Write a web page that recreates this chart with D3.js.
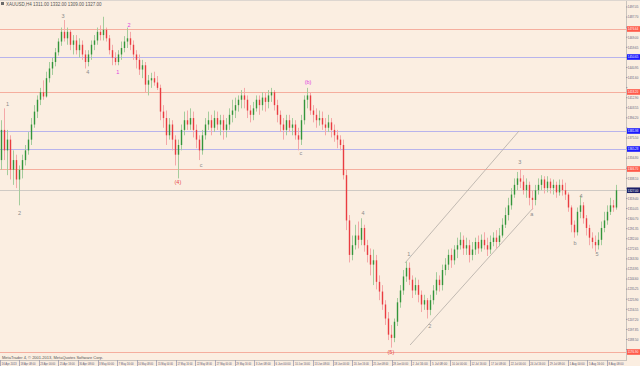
<!DOCTYPE html>
<html>
<head>
<meta charset="utf-8">
<script src="https://cdn.jsdelivr.net/npm/d3@7/dist/d3.min.js"></script>
<style>
  body { margin: 0; background: #fbeee1; }
  svg { display: block; font-family: "Liberation Sans", "DejaVu Sans", sans-serif; }
</style>
</head>
<body>
<div id="chart"></div>
<script>
// XAUUSD H4 candles, [open, high, low, close]
var candles = [
  [1355,1392,1346,1383],[1383,1403,1355,1364],[1364,1383,1341,1374],[1374,1378,1337,1346],
  [1346,1364,1332,1355],[1355,1360,1329,1337],[1337,1350,1313,1346],[1346,1360,1338,1355],
  [1355,1369,1350,1364],[1364,1381,1360,1374],[1374,1394,1369,1388],[1388,1406,1385,1400],
  [1400,1415,1394,1411],[1411,1422,1406,1418],[1418,1429,1411,1414],[1414,1437,1413,1431],
  [1431,1446,1427,1440],[1440,1450,1434,1446],[1446,1459,1442,1455],[1455,1468,1452,1465],
  [1465,1478,1461,1474],[1474,1485,1465,1468],[1468,1478,1462,1474],[1474,1476,1457,1462],
  [1462,1471,1453,1466],[1466,1471,1453,1457],[1457,1468,1450,1462],[1462,1466,1448,1453],
  [1453,1457,1440,1446],[1446,1457,1442,1453],[1453,1466,1448,1462],[1462,1471,1457,1466],
  [1466,1478,1462,1474],[1474,1480,1466,1471],[1471,1488,1466,1476],[1476,1478,1465,1468],
  [1468,1471,1453,1457],[1457,1462,1443,1450],[1450,1455,1443,1446],[1446,1457,1443,1453],
  [1453,1465,1448,1459],[1459,1470,1455,1465],[1465,1478,1459,1468],[1468,1474,1457,1462],
  [1462,1466,1448,1453],[1453,1457,1440,1448],[1448,1453,1434,1439],[1439,1448,1431,1443],
  [1443,1446,1418,1425],[1425,1434,1415,1429],[1429,1436,1422,1431],[1431,1437,1424,1427],
  [1427,1433,1420,1422],[1422,1425,1392,1400],[1400,1406,1385,1394],[1394,1401,1369,1378],
  [1378,1394,1374,1388],[1388,1392,1364,1374],[1374,1378,1350,1360],[1360,1374,1338,1369],
  [1369,1388,1364,1383],[1383,1400,1378,1392],[1392,1401,1383,1388],[1388,1403,1383,1394],
  [1394,1400,1376,1383],[1383,1388,1366,1374],[1374,1378,1355,1364],[1364,1383,1360,1378],
  [1378,1394,1374,1388],[1388,1400,1383,1392],[1392,1397,1378,1385],[1385,1401,1381,1394],
  [1394,1400,1383,1388],[1388,1397,1378,1392],[1392,1397,1374,1383],[1383,1394,1376,1388],
  [1388,1403,1383,1397],[1397,1411,1390,1401],[1401,1413,1394,1406],[1406,1415,1400,1411],
  [1411,1420,1403,1415],[1415,1422,1403,1411],[1411,1415,1394,1401],[1401,1406,1390,1397],
  [1397,1409,1392,1403],[1403,1415,1400,1411],[1411,1415,1397,1406],[1406,1418,1401,1413],
  [1413,1418,1400,1409],[1409,1420,1403,1415],[1415,1422,1409,1418],[1418,1420,1401,1406],
  [1406,1411,1390,1397],[1397,1401,1381,1388],[1388,1394,1374,1383],[1383,1397,1378,1392],
  [1392,1397,1381,1385],[1385,1394,1378,1388],[1388,1392,1374,1378],[1378,1385,1364,1374],
  [1374,1397,1369,1392],[1392,1415,1388,1411],[1411,1422,1403,1415],[1415,1418,1397,1401],
  [1401,1406,1390,1397],[1397,1403,1385,1392],[1392,1401,1387,1394],[1394,1400,1383,1388],
  [1388,1394,1378,1385],[1385,1397,1381,1390],[1390,1394,1376,1383],[1383,1388,1372,1378],
  [1378,1383,1366,1374],[1374,1378,1364,1369],[1369,1374,1337,1341],[1341,1346,1290,1299],
  [1299,1304,1260,1267],[1267,1285,1262,1276],[1276,1295,1272,1285],[1285,1298,1273,1281],
  [1281,1301,1276,1292],[1292,1295,1270,1276],[1276,1281,1260,1267],[1267,1273,1248,1258],
  [1258,1272,1239,1262],[1262,1267,1235,1242],[1242,1248,1225,1233],[1233,1239,1216,1221],
  [1221,1225,1202,1208],[1208,1214,1188,1193],[1193,1202,1181,1190],[1190,1208,1186,1205],
  [1205,1227,1201,1223],[1223,1239,1218,1234],[1234,1253,1230,1247],[1247,1261,1242,1255],
  [1255,1260,1239,1244],[1244,1248,1227,1234],[1234,1246,1230,1239],[1239,1244,1223,1230],
  [1230,1234,1214,1221],[1221,1230,1216,1225],[1225,1227,1208,1216],[1216,1230,1211,1225],
  [1225,1239,1221,1234],[1234,1251,1230,1244],[1244,1248,1233,1239],[1239,1258,1234,1253],
  [1253,1264,1248,1258],[1258,1272,1253,1267],[1267,1273,1255,1262],[1262,1276,1258,1272],
  [1272,1283,1264,1276],[1276,1288,1272,1281],[1281,1285,1267,1273],[1273,1283,1267,1276],
  [1276,1281,1260,1267],[1267,1279,1262,1272],[1272,1283,1267,1279],[1279,1285,1268,1273],
  [1273,1286,1270,1281],[1281,1288,1272,1276],[1276,1283,1266,1272],[1272,1285,1268,1279],
  [1279,1288,1275,1283],[1283,1290,1273,1279],[1279,1292,1275,1285],[1285,1301,1283,1295],
  [1295,1311,1292,1304],[1304,1320,1299,1313],[1313,1329,1309,1323],[1323,1338,1320,1332],
  [1332,1344,1327,1338],[1338,1346,1329,1335],[1335,1341,1323,1327],[1327,1338,1320,1332],
  [1332,1335,1313,1320],[1320,1327,1309,1318],[1318,1332,1313,1327],[1327,1338,1323,1332],
  [1332,1341,1327,1337],[1337,1340,1324,1329],[1329,1340,1325,1335],[1335,1338,1324,1329],
  [1329,1337,1323,1332],[1332,1335,1320,1325],[1325,1337,1322,1332],[1332,1337,1322,1327],
  [1327,1334,1318,1323],[1323,1325,1307,1311],[1311,1313,1288,1295],[1295,1299,1283,1288],
  [1288,1311,1285,1307],[1307,1322,1301,1313],[1313,1316,1296,1301],[1301,1304,1285,1292],
  [1292,1295,1276,1283],[1283,1288,1273,1279],[1279,1285,1270,1276],[1276,1288,1272,1281],
  [1281,1298,1276,1292],[1292,1307,1288,1299],[1299,1313,1295,1307],[1307,1320,1304,1313],
  [1313,1318,1307,1311],[1311,1332,1309,1327]
];

// price axis labels
var priceTicks = [1497.05,1487.70,1478.35,1469.00,1459.65,1450.30,1440.95,1431.60,1422.25,
  1412.90,1403.55,1394.20,1384.85,1375.50,1366.15,1356.80,1347.45,1338.10,1328.75,1319.40,
  1310.05,1300.70,1291.35,1282.00,1272.65,1263.30,1253.95,1244.60,1235.25,1225.90,1216.55,
  1207.20,1197.85,1188.50,1179.15];

// time axis labels and the bar they sit on
var dateLabels = ["16 Apr 2013","18 Apr 08:00","23 Apr 00:00","25 Apr 16:00","30 Apr 08:00",
  "3 May 00:00","7 May 16:00","10 May 08:00","15 May 00:00","17 May 16:00","22 May 08:00",
  "27 May 00:00","29 May 16:00","3 Jun 08:00","6 Jun 00:00","10 Jun 16:00","13 Jun 08:00",
  "18 Jun 00:00","20 Jun 16:00","25 Jun 08:00","28 Jun 00:00","2 Jul 16:00","5 Jul 08:00",
  "10 Jul 00:00","12 Jul 16:00","17 Jul 08:00","22 Jul 00:00","24 Jul 16:00","29 Jul 08:00",
  "1 Aug 00:00","5 Aug 16:00","8 Aug 08:00"];
var dateBars = [-0.5,5.8,12.4,18.9,25.4,32.0,38.5,45.0,51.6,58.1,64.6,71.2,77.7,84.2,90.8,
  97.3,103.8,110.4,116.9,123.4,130.0,136.5,143.0,149.6,156.1,162.6,169.2,175.7,182.2,188.8,
  195.3,201.8];

// horizontal levels
var levelPrices = [1476.64, 1450.65, 1418.20, 1381.98, 1365.28, 1346.70, 1176.90];
var levelKinds  = ["red", "blue", "red", "blue", "blue", "red", "red"];

// trend channel, [bar, price]
var upperLine = [[134.5, 1259.5], [172.5, 1382.0]];
var lowerLine = [[136.2, 1183.4], [177.2, 1310.5]];

// wave marks
var waveBars   = [2, 6, 20.5, 28.8, 38.8, 42.5, 58.8, 66.5, 99.8, 102.2, 120.5, 129.8, 135.8, 142.8, 172.8, 176.8, 191.2, 193.2, 198.5];
var wavePrices = [1407, 1306, 1489, 1437, 1437, 1480, 1335, 1350, 1362, 1427, 1306, 1177, 1268, 1201, 1353, 1305, 1278, 1322, 1268];
var waveTexts  = ["1", "2", "3", "4", "1", "2", "(4)", "c", "c", "(b)", "4", "(5)", "1", "2", "3", "a", "b", "4", "5"];
var waveKinds  = ["g", "g", "g", "g", "m", "m", "r", "g", "g", "m", "g", "r", "g", "g", "g", "g", "g", "g", "g"];

var W = 640, H = 366, plotRight = 626, plotBottom = 360;
var waveColor = { g: "#8a8a8a", m: "#e040e0", r: "#e84848" };
var levelLine = { red: "#f5ae9e", blue: "#b8b4ec" };
var levelTag  = { red: "#ff5a4a", blue: "#1a1aff" };

var svg = d3.select("#chart").append("svg")
  .attr("width", W)
  .attr("height", H);

svg.append("rect").attr("width", W).attr("height", H).attr("fill", "#fbeee1");

var x = d3.scaleLinear()
  .domain([0, candles.length - 1])
  .range([1.5, 1.5 + 3 * (candles.length - 1)]);

var y = d3.scaleLinear()
  .domain([1173.2, 1503.55])
  .range([356, 0]);

var plot = svg.append("g");

// levels
plot.selectAll(".level").data(levelPrices).enter().append("line")
  .attr("x1", 0).attr("x2", plotRight)
  .attr("y1", function(d) { return Math.round(y(d)) + 0.5; })
  .attr("y2", function(d) { return Math.round(y(d)) + 0.5; })
  .attr("stroke", function(d, i) { return levelLine[levelKinds[i]]; })
  .attr("stroke-width", 1);

// bid line
var last = candles[candles.length - 1];
plot.append("line")
  .attr("x1", 0).attr("x2", plotRight)
  .attr("y1", Math.round(y(last[3])) + 0.5).attr("y2", Math.round(y(last[3])) + 0.5)
  .attr("stroke", "#cfcac4").attr("stroke-width", 1);

// channel
[upperLine, lowerLine].forEach(function(seg) {
  plot.append("line")
    .attr("x1", x(seg[0][0])).attr("y1", y(seg[0][1]))
    .attr("x2", x(seg[1][0])).attr("y2", y(seg[1][1]))
    .attr("stroke", "#b2aca6").attr("stroke-width", 0.8);
});

// candles
var bars = plot.selectAll(".candle").data(candles).enter().append("g");

bars.append("line")
  .attr("x1", function(d, i) { return x(i); })
  .attr("x2", function(d, i) { return x(i); })
  .attr("y1", function(d) { return y(d[1]); })
  .attr("y2", function(d) { return y(d[2]); })
  .attr("stroke", function(d) { return d[3] >= d[0] ? "#a4cc9c" : "#f4a8a8"; })
  .attr("stroke-width", 1);

bars.append("rect")
  .attr("x", function(d, i) { return x(i) - 0.7; })
  .attr("width", 1.4)
  .attr("y", function(d) { return y(Math.max(d[0], d[3])); })
  .attr("height", function(d) { return Math.max(0.8, Math.abs(y(d[0]) - y(d[3]))); })
  .attr("fill", function(d) { return d[3] >= d[0] ? "#33953a" : "#ea3c40"; });

// wave marks
plot.selectAll(".wave").data(waveTexts).enter().append("text")
  .attr("x", function(d, i) { return x(waveBars[i]); })
  .attr("y", function(d, i) { return y(wavePrices[i]) + 2; })
  .attr("text-anchor", "middle")
  .style("font-size", "5.5px")
  .attr("fill", function(d, i) { return waveColor[waveKinds[i]]; })
  .text(function(d) { return d; });

// title and copyright
svg.append("rect").attr("x", 1).attr("y", 2).attr("width", 3).attr("height", 3).attr("fill", "#6a6a6a");
svg.append("text").attr("x", 6).attr("y", 6)
  .style("font-size", "4.5px").attr("fill", "#555")
  .text("XAUUSD,H4  1311.00 1332.00 1309.00 1327.00");
svg.append("text").attr("x", 2).attr("y", 359)
  .style("font-size", "4px").attr("fill", "#555")
  .text("MetaTrader 4, \u00a9 2001-2013, MetaQuotes Software Corp.");

// axis frames
svg.append("line").attr("x1", plotRight + 0.5).attr("x2", plotRight + 0.5)
  .attr("y1", 0).attr("y2", plotBottom).attr("stroke", "#c9c3bd");
svg.append("line").attr("x1", 0).attr("x2", plotRight + 1)
  .attr("y1", plotBottom + 0.5).attr("y2", plotBottom + 0.5).attr("stroke", "#c9c3bd");
svg.append("line").attr("x1", 0).attr("x2", W)
  .attr("y1", 0.5).attr("y2", 0.5).attr("stroke", "#ddd6d0");

// price axis, regular labels hidden where a level tag covers them
var fmt = d3.format(".2f");
var tags = levelPrices.map(function(p, i) { return { p: p, c: levelTag[levelKinds[i]] }; });
tags.push({ p: last[3], c: "#1c2066" });
var shown = priceTicks.filter(function(t) {
  return tags.every(function(g) { return Math.abs(y(t) - y(g.p)) > 5.5; });
});

var pAxis = svg.append("g");
pAxis.selectAll(".pt").data(priceTicks).enter().append("line")
  .attr("x1", plotRight).attr("x2", plotRight + 1.5)
  .attr("y1", function(d) { return y(d); }).attr("y2", function(d) { return y(d); })
  .attr("stroke", "#8a8aa0").attr("stroke-width", 0.8);
pAxis.selectAll(".pl").data(shown).enter().append("text")
  .attr("x", plotRight + 1.8)
  .attr("y", function(d) { return y(d) + 1.3; })
  .attr("textLength", 10.5).attr("lengthAdjust", "spacingAndGlyphs")
  .style("font-size", "3px").attr("fill", "#5a5a78")
  .text(function(d) { return fmt(d); });

// level tags
var tag = svg.selectAll(".tag").data(tags).enter().append("g");
tag.append("rect")
  .attr("x", plotRight + 1).attr("width", W - plotRight - 1)
  .attr("y", function(d) { return y(d.p) - 2.8; }).attr("height", 5.6)
  .attr("fill", function(d) { return d.c; });
tag.append("text")
  .attr("x", plotRight + 1.8)
  .attr("y", function(d) { return y(d.p) + 1.3; })
  .attr("textLength", 10.5).attr("lengthAdjust", "spacingAndGlyphs")
  .style("font-size", "3px").attr("fill", "#fff")
  .text(function(d) { return fmt(d.p); });

// time axis
var tAxis = svg.append("g");
tAxis.selectAll(".tt").data(dateBars).enter().append("line")
  .attr("x1", function(d) { return Math.round(x(d)) + 0.5; })
  .attr("x2", function(d) { return Math.round(x(d)) + 0.5; })
  .attr("y1", plotBottom).attr("y2", H)
  .attr("stroke", "#9a9ab0").attr("stroke-width", 0.8);
tAxis.selectAll(".tl").data(dateLabels).enter().append("text")
  .attr("x", function(d, i) { return Math.max(1.2, x(dateBars[i]) + 1.6); })
  .attr("y", 365)
  .attr("textLength", 15).attr("lengthAdjust", "spacingAndGlyphs")
  .style("font-size", "3.4px").attr("fill", "#5a5a78")
  .text(function(d) { return d; });
</script>
</body>
</html>
